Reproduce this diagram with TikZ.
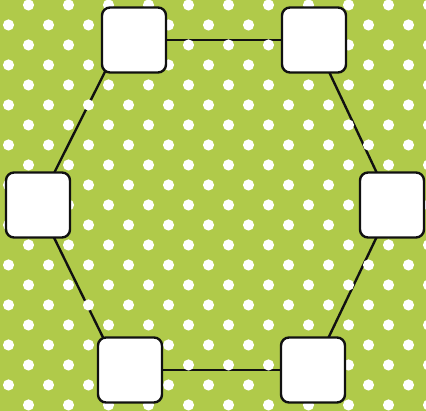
\documentclass[tikz,border=0pt]{standalone}
\usepackage{tikz}
\usetikzlibrary{
  backgrounds,
  positioning
}
\definecolor{dotGreen}{HTML}{B0CA4A}
\definecolor{dotInk}{HTML}{111111}
\tikzset{
  hexBox/.style={
    draw=dotInk,
    fill=white,
    line width=2.4pt,
    rounded corners=8pt,
    minimum width=64pt,
    minimum height=65pt,
    inner sep=0pt
  },
  hexEdge/.style={draw=dotInk, line width=2.4pt},
  polkaDot/.style={fill=white}
}
\begin{document}
\begin{tikzpicture}[x=1pt,y=1pt]
  \useasboundingbox (0,0) rectangle (426,411);
  % six boxes round the hexagon
  \node[hexBox] (topLeft) at (134,371) {};
  \node[hexBox] (topRight) at (314,371) {};
  \node[hexBox] (midLeft) at (38,206) {};
  \node[hexBox] (midRight) at (392,206) {};
  \node[hexBox] (botLeft) at (130,41) {};
  \node[hexBox] (botRight) at (313,41) {};
  \begin{scope}[on background layer]
    \clip (0,0) rectangle (426,411);
    \fill[dotGreen] (0,0) rectangle (426,411);
    \draw[hexEdge] (topLeft) -- (topRight);
    \draw[hexEdge] (topRight.center) -- (midRight.center);
    \draw[hexEdge] (midRight.center) -- (botRight.center);
    \draw[hexEdge] (botRight) -- (botLeft);
    \draw[hexEdge] ([xshift=-11pt]botLeft.center) -- (midLeft.center);
    \draw[hexEdge] (midLeft.center) -- ([xshift=-13pt]topLeft.center);
    % polka dots over the edges
    \foreach \k in {0,...,20} {
      \pgfmathsetmacro{\offset}{8.5+20*(1-mod(\k,2))}
      \foreach \j in {0,...,10} {
        \fill[polkaDot] (\offset+40*\j,406-20*\k) circle (5.6);
      }
    }
  \end{scope}
\end{tikzpicture}
\end{document}
